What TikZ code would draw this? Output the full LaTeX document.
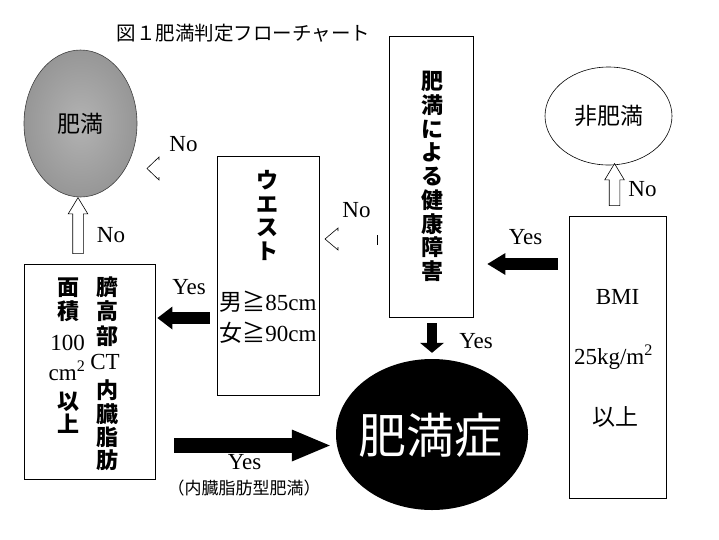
\documentclass[tikz,border=0pt]{standalone}
\usepackage{fontspec}
\setmainfont{Liberation Serif}
\newfontfamily\jp{Noto Sans CJK JP}
\usepackage{tikz}
\usetikzlibrary{shapes, arrows.meta, positioning}

\begin{document}
\begin{tikzpicture}
  [
    x=1pt, y=-1pt,
    Box/.style={rectangle, draw=black, line width=0.8pt, inner sep=0pt},
    Gray/.style={ellipse, draw=black!75, line width=0.6pt, inner color=gray!60, outer color=gray!82, inner sep=0pt, font=\jp\fontsize{23}{26}\selectfont},
    Round/.style={ellipse, draw=black, line width=0.6pt, fill=white, inner sep=0pt, font=\jp\fontsize{23}{26}\selectfont},
    Black/.style={ellipse, fill=black, inner sep=0pt},
    Big/.style={inner sep=0pt, text=white, font=\jp\fontsize{48}{50}\selectfont},
    Latin/.style={inner sep=0pt, font=\fontsize{23}{26}\selectfont},
    Kana/.style={inner sep=0pt, font=\jp\fontsize{23}{26}\selectfont},
    Vert/.style={inner sep=0pt, align=center, font=\jp\bfseries\fontsize{22}{#1}\selectfont},
    Push/.style n args={3}{draw=black, line width=#1, -{Triangle[length=#2, width=#3, line width=0pt]}},
    Open/.style={single arrow, draw=black, line width=0.6pt, fill=white, inner sep=5pt, minimum width=19pt, single arrow head extend=4.5pt, single arrow tip angle=62, rotate=90},
    Broken/.style={draw=black, line width=0.6pt}
  ]
  \useasboundingbox (0,0) rectangle (719,539);
  % Nodes
  \node[inner sep=0pt, font=\jp\fontsize{19.5}{22}\selectfont] (title) at (243.5,33) {図１肥満判定フローチャート};
  \node[Gray, minimum width=113pt, minimum height=147pt] (obese) at (80.5,123.5) {肥満};
  \node[Round, minimum width=127pt, minimum height=98pt] (lean) at (608.5,116) {非肥満};
  \node[Black, minimum width=192pt, minimum height=151pt] (obesity) at (432,434.5) {};
  \node[Big] (obesitytext) at (430,435) {肥満症};

  \node[Box, minimum width=131pt, minimum height=215pt] (lbox) at (89.5,371.5) {};
  \node[Box, minimum width=102pt, minimum height=239pt] (waist) at (268,275.5) {};
  \node[Box, minimum width=84pt, minimum height=281pt] (health) at (431,176.5) {};
  \node[Box, minimum width=97pt, minimum height=282pt] (bmi) at (617.5,357) {};

  % Texts in boxes
  \node[Vert=23.75pt] (healthtext) at (432.5,176.5) {肥\\満\\に\\よ\\る\\健\\康\\障\\害};
  \node[Vert=23.7pt] (waisttext) at (267,215.5) {ウ\\エ\\ス\\ト};
  \node[Latin] (male) at (268,302) {{\jp 男≧}85cm};
  \node[Latin] (female) at (268,332.5) {{\jp 女≧}90cm};
  \node[Latin] (bmitext) at (617.5,296.5) {BMI};
  \node[Latin] (bmivalue) at (613.5,357) {25kg/m\textsuperscript{2}};
  \node[Kana] (bmiover) at (615.5,416.5) {以上};
  \node[Vert=24.5pt] (navel) at (107.5,311.5) {臍\\高\\部};
  \node[Latin] (ct) at (105,362) {CT};
  \node[Vert=23.3pt] (fat) at (107.5,425.5) {内\\臓\\脂\\肪};
  \node[Vert=24.5pt] (area) at (68,300) {面\\積};
  \node[Latin] (hundred) at (67.5,342.5) {100};
  \node[Latin] (unit) at (67,371) {cm\textsuperscript{2}};
  \node[Vert=23pt] (over) at (68,412.5) {以\\上};

  % Labels
  \node[Latin] (noA) at (111,235) {No};
  \node[Latin] (noB) at (183.5,144.5) {No};
  \node[Latin] (noC) at (356.5,210.5) {No};
  \node[Latin] (noD) at (642.5,189.5) {No};
  \node[Latin] (yesA) at (525.5,237.5) {Yes};
  \node[Latin] (yesB) at (476,341) {Yes};
  \node[Latin] (yesC) at (189,287) {Yes};
  \node[Latin] (yesD) at (244.5,462) {Yes};
  \node[inner sep=0pt, font=\jp\fontsize{17}{19}\selectfont] (type) at (244,488) {（内臓脂肪型肥満）};

  % Lines
  \coordinate (rowA) at (0,264);
  \coordinate (rowB) at (0,318);
  \coordinate (rowC) at (0,445.5);
  \draw[Push={12pt}{18pt}{22pt}, shorten <=11pt, shorten >=14pt] (bmi.west |- rowA) -- (health.east |- rowA);
  \draw[Push={10pt}{10pt}{24pt}, shorten <=6pt, shorten >=6pt] (health.south -| obesity.north) -- (obesity.north);
  \draw[Push={12pt}{15pt}{23pt}, shorten <=7pt, shorten >=2pt] (waist.west |- rowB) -- (lbox.east |- rowB);
  \draw[Push={15pt}{38pt}{32pt}, shorten <=19pt, shorten >=6pt] (lbox.east |- rowC) -- (obesity.west |- rowC);
  \node[Open, minimum height=56pt] (upA) at (78,230) {};
  \node[Open, minimum height=42pt] (upB) at (614.5,189) {};
  \draw[Broken] (159,160) -- (159,157) -- (147,168.5) -- (159,180) -- (159,177);
  \draw[Broken] (338,231) -- (338,228) -- (325,239) -- (338,250) -- (338,247);
  \draw[Broken] (377,235) -- (377,245);
\end{tikzpicture}
\end{document}
